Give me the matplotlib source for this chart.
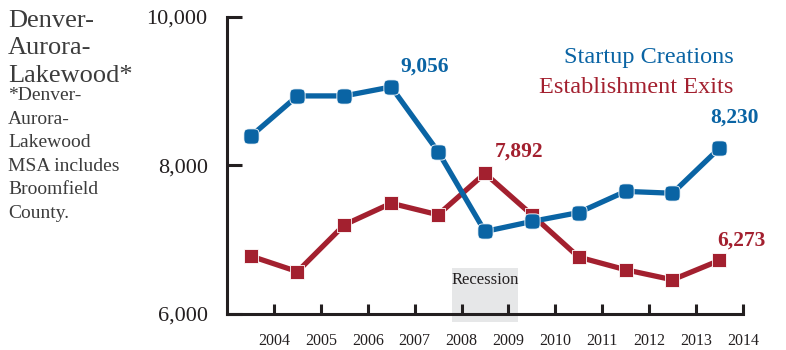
import matplotlib.pyplot as plt
import numpy as np
from matplotlib.path import Path
from matplotlib.patches import Rectangle

# data
years = [2003, 2004, 2005, 2006, 2007, 2008, 2009, 2010, 2011, 2012, 2013]
startups = [8390, 8935, 8935, 9056, 8185, 7110, 7245, 7365, 7650, 7625, 8230]
exits = [6780, 6570, 7200, 7490, 7335, 7892, 7335, 6765, 6595, 6460, 6720]
tick_years = [2004, 2005, 2006, 2007, 2008, 2009, 2010, 2011, 2012, 2013, 2014]
yticks = [6000, 8000, 10000]
recession = (2007.8, 2009.2)

blue = '#0a64a4'
red = '#a3202f'
dark = '#231f20'

# rounded square marker (superellipse)
t = np.linspace(0, 2 * np.pi, 60)
sx = np.sign(np.cos(t)) * np.abs(np.cos(t)) ** 0.5
sy = np.sign(np.sin(t)) * np.abs(np.sin(t)) ** 0.5
rsq = Path(np.column_stack([sx, sy]))

fig = plt.figure(figsize=(7.86, 3.5), dpi=100)
ax = fig.add_axes([0.289, 0.103, 0.656, 0.849])

x = np.array(years) + 0.5
ax.plot(x, startups, color=blue, lw=3.8, marker=rsq, ms=11,
        mec='white', mew=0.6, zorder=3, solid_capstyle='round')
ax.plot(x, exits, color=red, lw=3.8, marker='s', ms=10.5,
        mec='white', mew=0.6, zorder=2)

ax.add_patch(Rectangle((recession[0], 5890), recession[1] - recession[0], 730,
                       color='#e6e7e8', zorder=0, clip_on=False, lw=0))
ax.text(sum(recession) / 2, 6460, 'Recession', ha='center', va='center',
        fontsize=12, family='Liberation Serif', color=dark)

ann = dict(fontsize=15.5, fontweight='bold', family='Liberation Serif')
ax.text(2006.7, 9330, '9,056', color=blue, ha='left', va='center', **ann)
ax.text(2013.3, 8640, '8,230', color=blue, ha='left', va='center', **ann)
ax.text(2008.7, 8190, '7,892', color=red, ha='left', va='center', **ann)
ax.text(2013.45, 6990, '6,273', color=red, ha='left', va='center', **ann)

ax.text(2013.8, 9450, 'Startup Creations', color=blue, ha='right', va='center',
        fontsize=17.5, family='Liberation Serif')
ax.text(2013.8, 9050, 'Establishment Exits', color=red, ha='right', va='center',
        fontsize=17.5, family='Liberation Serif')

ax.set_xlim(2003, 2014)
ax.set_ylim(6000, 10000)
ax.set_xticks(tick_years)
ax.set_yticks(yticks)
ax.set_yticklabels([f'{v:,}' for v in yticks])
ax.tick_params(axis='y', direction='in', length=11, width=2.2, color=dark,
               pad=14, labelsize=16, labelcolor=dark)
ax.tick_params(axis='x', direction='in', length=7, width=2.2, color=dark,
               pad=13.5, labelsize=11.5, labelcolor=dark)
for lab in ax.get_xticklabels() + ax.get_yticklabels():
    lab.set_family('Liberation Serif')
for s in ['top', 'right']:
    ax.spines[s].set_visible(False)
for s in ['left', 'bottom']:
    ax.spines[s].set_linewidth(2.2)
    ax.spines[s].set_color(dark)
ax.patch.set_alpha(0)

# left note
title_lines = ['Denver-', 'Aurora-', 'Lakewood*']
for i, s in enumerate(title_lines):
    fig.text(8 / 786, 1 - (27 + 27.5 * i) / 350, s, fontsize=19,
             family='Liberation Serif', color='#3c3c3c', va='baseline')
note_lines = ['*Denver-', 'Aurora-', 'Lakewood', 'MSA includes', 'Broomfield', 'County.']
for i, s in enumerate(note_lines):
    fig.text(8 / 786, 1 - (100 + 23.6 * i) / 350, s, fontsize=14,
             family='Liberation Serif', color='#3c3c3c', va='baseline')

fig.savefig('out.png', dpi=100)
